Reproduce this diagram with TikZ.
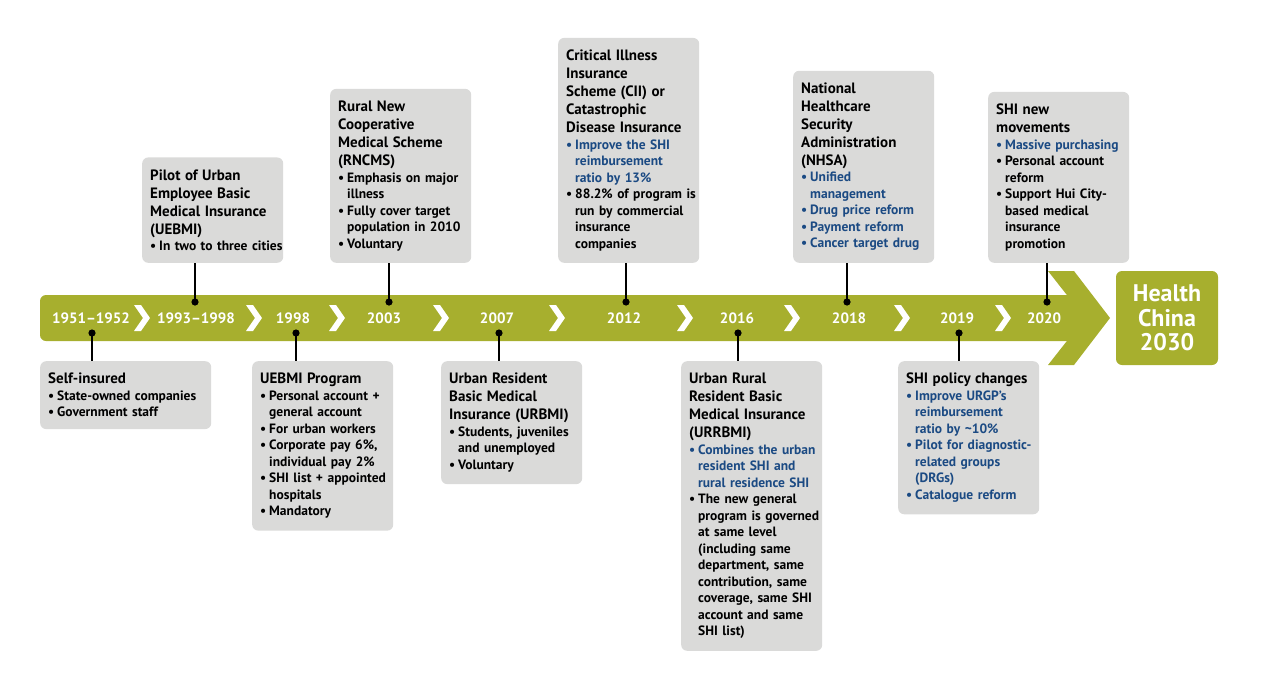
\documentclass[tikz,border=0pt]{standalone}
\usepackage{fontspec}
\setmainfont{PT Sans}
\definecolor{hcgreen}{RGB}{167,175,46}
\definecolor{boxgray}{RGB}{218,218,217}
\definecolor{hcblue}{RGB}{27,74,131}
\newcommand\ttl[1]{{\fontsize{15}{18}\selectfont #1\par}}
\newcommand\bul[1]{\par{\hangindent=9pt\hangafter=1\rightskip=0pt minus 20pt\hyphenpenalty=10000
  \noindent\hbox to 9pt{\textbullet\hss}#1\par}}
\newcommand\bbul[1]{\par{\color{hcblue}\hangindent=9pt\hangafter=1\rightskip=0pt minus 20pt\hyphenpenalty=10000
  \noindent\hbox to 9pt{\textbullet\hss}#1\par}}

\begin{document}
\begin{tikzpicture}[x=1pt,y=-1pt,
  evbox/.style={fill=boxgray,rounded corners=6pt,text width=125pt,inner xsep=8pt,inner ysep=12pt,
    font=\bfseries\fontsize{13.5}{16.5}\selectfont},
  yr/.style={text=white,font=\bfseries\fontsize{15}{18}\selectfont},
  link/.style={line width=1.8pt}]
\useasboundingbox (0,0) rectangle (1261,675);

% timeline band and head
\fill[hcgreen,rounded corners=6pt](40,295) rectangle (1088,341);
\fill[hcgreen](1048,271)--(1074,271)--(1110,318)--(1074,365)--(1048,365)--(1085,318)--cycle;
\node[fill=hcgreen,rounded corners=6pt,minimum width=102pt,minimum height=94pt,text=white,
  align=center,font=\bfseries\fontsize{24}{24.5}\selectfont] (goal) at (1167,318) {Health\\China\\2030};

% chevrons
\foreach \c in {142,254,337,441,557,685,792,902,1003}
  \fill[white](\c-8,305)--(\c-1,305)--(\c+8,318)--(\c-1,331)--(\c-8,331)--(\c+1,318)--cycle;

% years
\node[yr] (y1951) at (91,318) {1951–1952};
\node[yr] (y1993) at (196,318) {1993–1998};
\node[yr] (y1998) at (293,318) {1998};
\node[yr] (y2003) at (384,318) {2003};
\node[yr] (y2007) at (497,318) {2007};
\node[yr] (y2012) at (624,318) {2012};
\node[yr] (y2016) at (737,318) {2016};
\node[yr] (y2018) at (849,318) {2018};
\node[yr] (y2019) at (957,318) {2019};
\node[yr] (y2020) at (1044,318) {2020};

% boxes above
\node[evbox,anchor=south west] (b1993) at (142,263) {\ttl{Pilot of Urban\\Employee Basic\\Medical Insurance\\(UEBMI)}
  \bul{In two to three cities}};
\node[evbox,anchor=south west] (b2003) at (330,263) {\ttl{Rural New\\Cooperative\\Medical Scheme\\(RNCMS)}
  \bul{Emphasis on major\newline illness}\bul{Fully cover target\newline population in 2010}\bul{Voluntary}};
\node[evbox,anchor=south west] (b2012) at (558,263) {\ttl{Critical Illness\\Insurance\\Scheme (CII) or\\Catastrophic\\Disease Insurance}
  \bbul{Improve the SHI\newline reimbursement\newline ratio by 13\%}\bul{88.2\% of program is\newline run by commercial\newline insurance\newline companies}};
\node[evbox,anchor=south west] (b2018) at (793,263) {\ttl{National\\Healthcare\\Security\\Administration\\(NHSA)}
  \bbul{Unified\newline management}\bbul{Drug price reform}\bbul{Payment reform}\bbul{Cancer target drug}};
\node[evbox,anchor=south west] (b2020) at (988,263) {\ttl{SHI new\\movements}
  \bbul{Massive purchasing}\bul{Personal account\newline reform}\bul{Support Hui City-\newline based medical\newline insurance\newline promotion}};

% boxes below
\node[evbox,anchor=north west,text width=155pt] (b1951) at (40,361) {\ttl{Self-insured}
  \bul{State-owned companies}\bul{Government staff}};
\node[evbox,anchor=north west] (b1998) at (252,361) {\ttl{UEBMI Program}
  \bul{Personal account +\newline general account}\bul{For urban workers}\bul{Corporate pay 6\%,\newline individual pay 2\%}\bul{SHI list + appointed\newline hospitals}\bul{Mandatory}};
\node[evbox,anchor=north west] (b2007) at (441,361) {\ttl{Urban Resident\\Basic Medical\\Insurance (URBMI)}
  \bul{Students, juveniles\newline and unemployed}\bul{Voluntary}};
\node[evbox,anchor=north west] (b2016) at (681,361) {\ttl{Urban Rural\\Resident Basic\\Medical Insurance\\(URRBMI)}
  \bbul{Combines the urban\newline resident SHI and\newline rural residence SHI}\bul{The new general\newline program is governed\newline at same level\newline (including same\newline department, same\newline contribution, same\newline coverage, same SHI\newline account and same\newline SHI list)}};
\node[evbox,anchor=north west] (b2019) at (898,361) {\ttl{SHI policy changes}
  \bbul{Improve URGP’s\newline reimbursement\newline ratio by \textasciitilde10\%}\bbul{Pilot for diagnostic-\newline related groups\newline (DRGs)}\bbul{Catalogue reform}};

% pins
\coordinate (p1993) at (195,302);
\coordinate (p2003) at (389,302);
\coordinate (p2012) at (626,302);
\coordinate (p2018) at (847,302);
\coordinate (p2020) at (1047,302);
\coordinate (p1951) at (92,333);
\coordinate (p1998) at (296,333);
\coordinate (p2007) at (499,333);
\coordinate (p2016) at (738,333);
\coordinate (p2019) at (959,333);
\foreach \p in {1993,2003,2012,2018,2020}
  \draw[link](p\p)--(p\p |- b\p.south);
\foreach \p in {1951,1998,2007,2016,2019}
  \draw[link](p\p)--(p\p |- b\p.north);
\foreach \p in {1993,2003,2012,2018,2020,1951,1998,2007,2016,2019}
  \fill(p\p) circle (3.6pt);
\end{tikzpicture}
\end{document}
